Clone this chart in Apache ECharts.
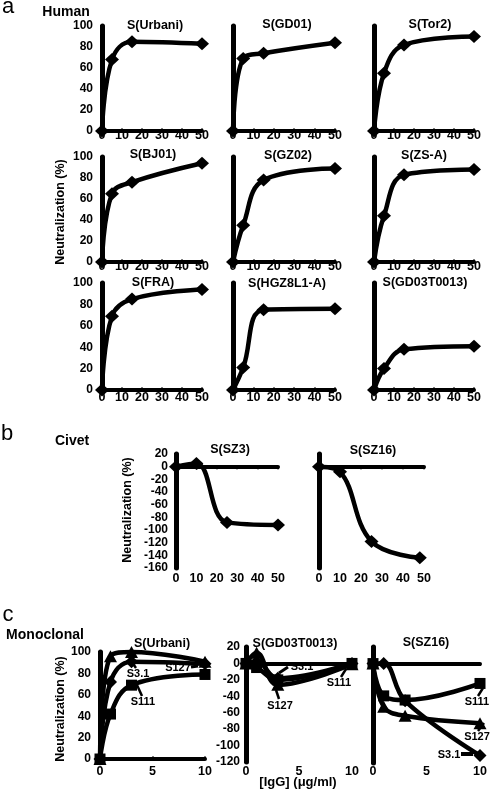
<!DOCTYPE html>
<html>
<head>
<meta charset="utf-8">
<script src="https://cdn.jsdelivr.net/npm/echarts/dist/echarts.min.js"></script>
<style>
html,body{margin:0;padding:0;background:#fff;}
#chart{width:490px;height:791px;}
</style>
</head>
<body>
<div id="chart"></div>
<script>
// ---------- data ----------
const FONT = '"Liberation Sans", Arial, sans-serif';

// Panel a (Human), x = serum dilution points
const aX = [0, 5, 15, 50];
const aTitles = ['S(Urbani)', 'S(GD01)', 'S(Tor2)', 'S(BJ01)', 'S(GZ02)', 'S(ZS-A)', 'S(FRA)', 'S(HGZ8L1-A)', 'S(GD03T0013)'];
const urbaniA = [0, 68, 85, 83];
const gd01 = [0, 69, 74, 84];
const tor2 = [0, 55, 82, 90];
const bj01 = [0, 65, 76, 94];
const gz02 = [0, 35, 78, 89];
const zsA = [0, 44, 83, 88];
const fra = [0, 69, 85, 94];
const hgz8l1a = [0, 21, 75, 76];
const gd03a = [0, 20, 38, 41];
const aValues = [urbaniA, gd01, tor2, bj01, gz02, zsA, fra, hgz8l1a, gd03a];
const aYTicks = [0, 100, 20];   // min, max, interval
const aXTicks = [0, 50, 10];

// Panel b (Civet)
const bTitles = ['S(SZ3)', 'S(SZ16)'];
const sz3X = [0, 10, 25, 50];
const sz3 = [0, 5, -88, -92];
const sz16X = [0, 10, 25, 48];
const sz16 = [0, -8, -118, -144];
const bYTicks = [-160, 20, 20];
const bXTicks = [0, 50, 10];

// Panel c (Monoclonal), x = [IgG] (ug/ml)
const cTitles = ['S(Urbani)', 'S(GD03T0013)', 'S(SZ16)'];
const cX = [0, 1, 3, 10];
const cNames = ['S3.1', 'S127', 'S111'];
const cUrbani = { 'S3.1': [0, 72, 91, 89], 'S127': [0, 96, 100, 91], 'S111': [0, 42, 69, 79] };
const cGD03 = { 'S3.1': [0, 2, -18, 0], 'S127': [0, 13, -26, -1], 'S111': [0, -5, -20, 0] };
const cSZ16 = { 'S3.1': [0, 0, -45, -111], 'S127': [0, -52, -63, -72], 'S111': [0, -39, -44, -24] };
const cYTicks1 = [0, 100, 20];
const cYTicks2 = [-120, 20, 20];
const cXTicks = [0, 10, 5];
const cSymbols = { 'S3.1': ['diamond', [13, 13]], 'S127': ['triangle', [13, 12]], 'S111': ['rect', [11, 11]] };

// ---------- builders ----------
const grids = [], xAxes = [], yAxes = [], series = [], graphics = [];

function addPanel(cfg) {
  const gi = grids.length;
  grids.push({ left: cfg.left, top: cfg.top, width: cfg.width, height: cfg.height, containLabel: false });
  const labelX = { show: true, fontSize: 12.5, fontWeight: 'bold', color: '#000', fontFamily: FONT, margin: cfg.xMargin, showMinLabel: true, showMaxLabel: true };
  const xBase = { type: 'value', gridIndex: gi, min: cfg.xt[0], max: cfg.xt[1], interval: cfg.xt[2], splitLine: { show: false } };
  const xLine = { show: true, lineStyle: { color: '#000', width: 4 } };
  const xTick = { show: true, inside: true, length: 2.5, lineStyle: { color: '#000', width: 2 } };
  const xi = xAxes.length;
  if (cfg.zeroLine) {
    xAxes.push(Object.assign({}, xBase, { position: 'bottom', axisLine: { show: false, onZero: false }, axisTick: { show: false }, axisLabel: labelX }));
    xAxes.push(Object.assign({}, xBase, { position: 'top', axisLine: Object.assign({ onZero: true }, xLine), axisTick: xTick, axisLabel: { show: false } }));
  } else {
    xAxes.push(Object.assign({}, xBase, { position: 'bottom', axisLine: Object.assign({ onZero: false }, xLine), axisTick: xTick, axisLabel: labelX }));
  }
  const yi = yAxes.length;
  yAxes.push({
    type: 'value', gridIndex: gi, min: cfg.yt[0], max: cfg.yt[1], interval: cfg.yt[2],
    axisLine: { show: true, onZero: false, lineStyle: { color: '#000', width: 5 } },
    axisTick: { show: true, length: 2, lineStyle: { color: '#000', width: 2 } },
    axisLabel: { show: !!cfg.yLabels, fontSize: 12, fontWeight: 'bold', color: '#000', fontFamily: FONT, margin: cfg.yMargin || 8 },
    splitLine: { show: false }
  });
  cfg.series.forEach(s => {
    series.push({
      type: 'line', xAxisIndex: xi, yAxisIndex: yi,
      data: s.x.map((v, i) => [v, s.y[i]]),
      smooth: 0.4, symbol: s.symbol, symbolSize: s.size, showAllSymbol: true,
      lineStyle: { color: '#000', width: 4.5 }, itemStyle: { color: '#000' },
      clip: false, silent: true, animation: false, z: s.z || 2
    });
  });
}

function txt(text, x, y, size, weight, rot) {
  graphics.push({
    type: 'text', x: x, y: y, rotation: rot || 0, silent: true, z: 100,
    style: { text: text, fontSize: size, fontWeight: weight, fontFamily: FONT, fill: '#000', align: 'center', verticalAlign: 'middle' }
  });
}
function seg(x1, y1, x2, y2, w) {
  graphics.push({ type: 'line', silent: true, z: 100, shape: { x1, y1, x2, y2 }, style: { stroke: '#000', lineWidth: w || 2.5 } });
}

// ---------- panel a ----------
const aCols = [{ left: 102, width: 100 }, { left: 233, width: 102 }, { left: 374, width: 100 }];
const aRows = [{ top: 26, height: 105, m: -2 }, { top: 157, height: 105, m: -1.5 }, { top: 283, height: 107, m: 1.5 }];
const aTitlePos = [[155, 26], [287, 25], [430, 25], [153, 155], [288, 156], [424, 156], [153, 283], [287, 284], [425, 283]];
for (let r = 0; r < 3; r++) {
  for (let c = 0; c < 3; c++) {
    const k = r * 3 + c;
    addPanel({
      left: aCols[c].left, width: aCols[c].width, top: aRows[r].top, height: aRows[r].height,
      xt: aXTicks, yt: aYTicks, xMargin: aRows[r].m, yLabels: c === 0, yMargin: 9,
      series: [{ x: aX, y: aValues[k], symbol: 'diamond', size: [14, 13] }]
    });
    txt(aTitles[k], aTitlePos[k][0], aTitlePos[k][1], 12.5, 'bold');
  }
}

// ---------- panel b ----------
addPanel({ left: 176, width: 102, top: 454, height: 114, xt: bXTicks, yt: bYTicks, xMargin: 4.5, yLabels: true, yMargin: 8, zeroLine: true,
  series: [{ x: sz3X, y: sz3, symbol: 'diamond', size: [14, 13] }] });
addPanel({ left: 319, width: 105, top: 454, height: 114, xt: bXTicks, yt: bYTicks, xMargin: 4.5, yLabels: false, zeroLine: true,
  series: [{ x: sz16X, y: sz16, symbol: 'diamond', size: [14, 13] }] });
txt(bTitles[0], 230, 450, 12.5, 'bold');
txt(bTitles[1], 373, 451, 12.5, 'bold');

// ---------- panel c ----------
function cSeries(obj) {
  return cNames.map(n => ({ x: cX, y: obj[n], symbol: cSymbols[n][0], size: cSymbols[n][1] }));
}
addPanel({ left: 100, width: 105, top: 652, height: 107, xt: cXTicks, yt: cYTicks1, xMargin: 6.5, yLabels: true, yMargin: 9,
  series: cSeries(cUrbani) });
addPanel({ left: 246, width: 106, top: 647, height: 115, xt: cXTicks, yt: cYTicks2, xMargin: 3.5, yLabels: true, yMargin: 6, zeroLine: true,
  series: cSeries(cGD03) });
addPanel({ left: 373, width: 107, top: 647, height: 116, xt: cXTicks, yt: cYTicks2, xMargin: 2.5, yLabels: false, zeroLine: true,
  series: cSeries(cSZ16) });
txt(cTitles[0], 162, 644, 12.5, 'bold');
txt(cTitles[1], 295, 644, 12.5, 'bold');
txt(cTitles[2], 426, 643, 12.5, 'bold');

// series annotations
txt('S3.1', 138, 674, 11, 'bold'); seg(136, 668, 131, 661);
txt('S127', 178, 668, 11, 'bold'); seg(191, 667, 198, 666, 3);
txt('S111', 143, 702, 11, 'bold'); seg(142, 696, 137, 685);
txt('S3.1', 302, 667, 11, 'bold'); seg(279, 673, 288, 667, 3);
txt('S127', 280, 706, 11, 'bold'); seg(279, 699, 276, 690);
txt('S111', 339, 683, 11, 'bold'); seg(341, 677, 346, 669);
txt('S111', 477, 702, 11, 'bold'); seg(478, 696, 483, 688);
txt('S127', 477, 737, 11, 'bold'); seg(478, 731, 484, 723);
txt('S3.1', 449, 755, 11, 'bold'); seg(461, 754, 473, 754, 4);

// panel letters, group labels, axis names
txt('a', 8, 7, 22, 'normal');
txt('Human', 66, 12, 14, 'bold');
txt('b', 7, 434, 22, 'normal');
txt('Civet', 72, 441, 14, 'bold');
txt('c', 8, 615, 22, 'normal');
txt('Monoclonal', 45, 635, 14, 'bold');
txt('Neutralization (%)', 61, 212, 12.5, 'bold', Math.PI / 2);
txt('Neutralization (%)', 128, 510, 12.5, 'bold', Math.PI / 2);
txt('Neutralization (%)', 61, 709, 12.5, 'bold', Math.PI / 2);
txt('[IgG] (\u03bcg/ml)', 298, 782, 13, 'bold');

const chart = echarts.init(document.getElementById('chart'), null, { renderer: 'canvas' });
chart.setOption({
  backgroundColor: '#fff',
  animation: false,
  grid: grids,
  xAxis: xAxes,
  yAxis: yAxes,
  series: series,
  graphic: graphics
});
</script>
</body>
</html>
